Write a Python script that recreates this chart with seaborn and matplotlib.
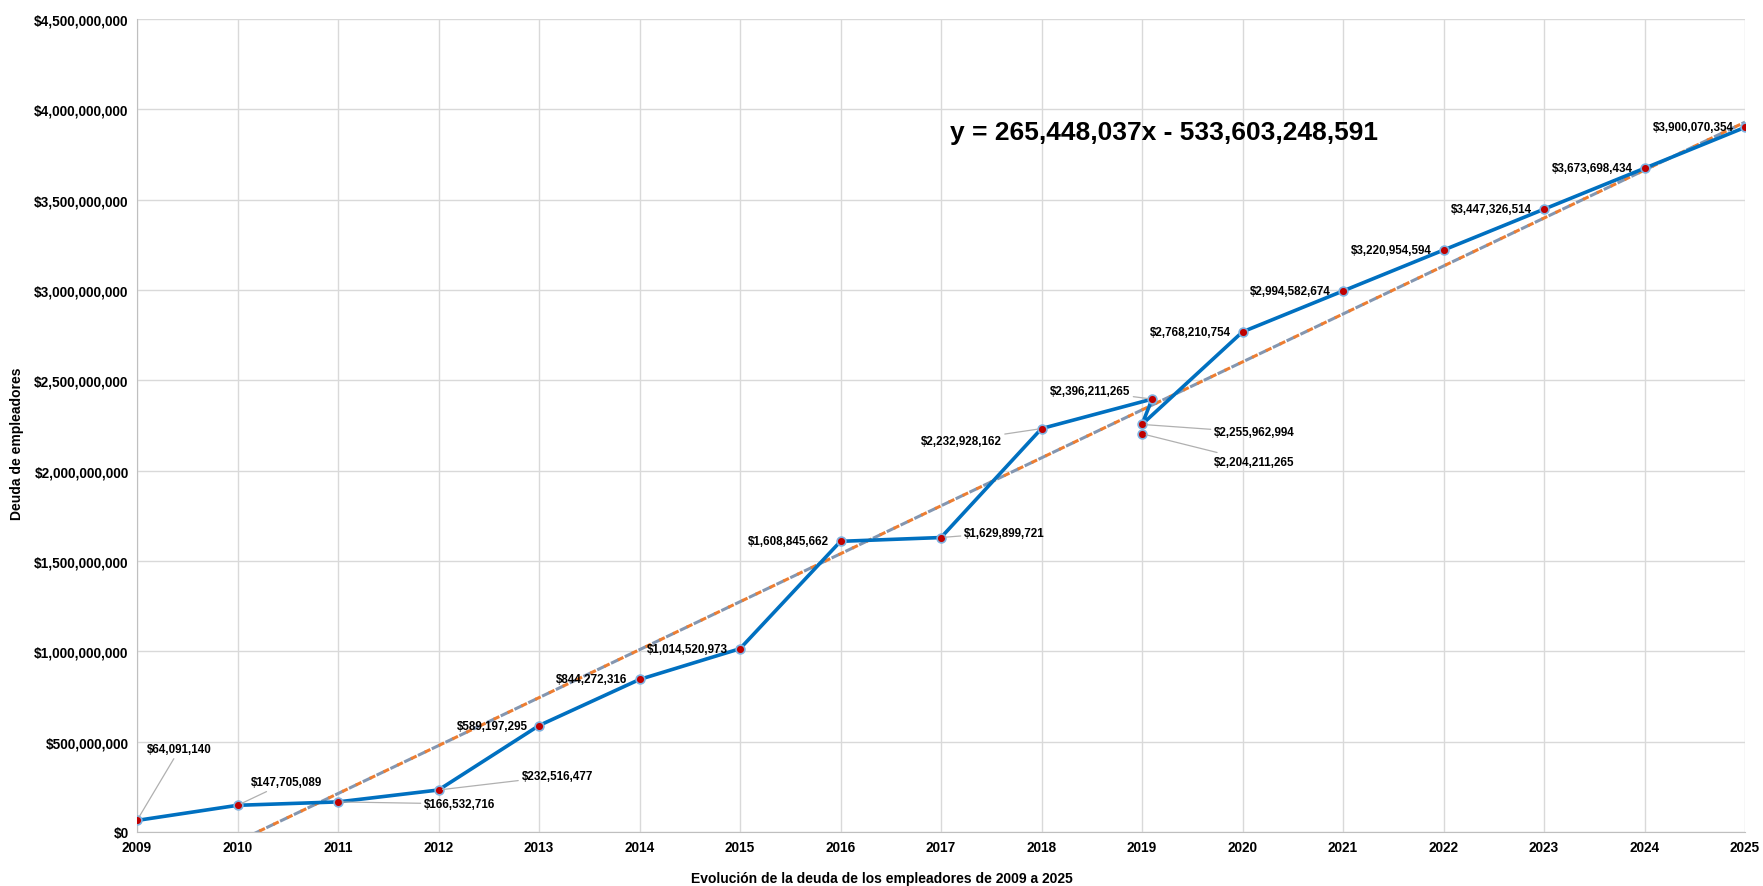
import numpy as np
import pandas as pd
import matplotlib
matplotlib.use('Agg')
import matplotlib.pyplot as plt
import seaborn as sns

# data
years = [2009, 2010, 2011, 2012, 2013, 2014, 2015, 2016, 2017, 2018,
         2019.1, 2019, 2020, 2021, 2022, 2023, 2024, 2025]
debt = [64091140, 147705089, 166532716, 232516477, 589197295, 844272316,
        1014520973, 1608845662, 1629899721, 2232928162, 2396211265,
        2255962994, 2768210754, 2994582674, 3220954594, 3447326514,
        3673698434, 3900070354]
# extra point sitting under the 2019 value (not joined by the line)
extra_year = [2019]
extra_debt = [2204211265]

# trendline coefficients as printed on the chart
slope = 265448037
intercept = -533603248591

# label offsets in pixels (dx, dy) and alignment
label_offsets = [(10, 71, 'left'), (13, 23, 'left'), (86, -2, 'left'), (83, 14, 'left'),
                 (-11, 0, 'right'), (-12, 0, 'right'), (-12, 0, 'right'), (-12, 0, 'right'),
                 (23, 5, 'left'), (-40, -12, 'right'), (-22, 8, 'right'), (72, -8, 'left'),
                 (-12, 0, 'right'), (-12, 0, 'right'), (-12, 0, 'right'), (-12, 0, 'right'),
                 (-12, 0, 'right'), (-11, 0, 'right')]
extra_offset = (72, -28, 'left')
leader = {0, 1, 2, 3, 8, 9, 10, 11}

df = pd.DataFrame({'year': years, 'debt': debt})
df_all = pd.concat([df, pd.DataFrame({'year': extra_year, 'debt': extra_debt})])

sns.set_style('white')
plt.rcParams['font.family'] = ['Liberation Sans', 'DejaVu Sans']
plt.rcParams['font.weight'] = 'bold'
plt.rcParams['text.color'] = 'black'
plt.rcParams['xtick.color'] = 'black'
plt.rcParams['ytick.color'] = 'black'

fig, ax = plt.subplots(figsize=(17.63, 8.87), dpi=100)
fig.subplots_adjust(left=137/1763, right=1745/1763, top=1-20/887, bottom=1-833/887)

# trendline (two overlapping dashed lines like the original)
tx = np.array([2009, 2025])
ty = slope * tx + intercept
ax.plot(tx, ty, color='#8496b0', lw=2.2, ls=(0, (3, 2)), zorder=2)
ax.plot(tx, ty, color='#ed7d31', lw=2.2, ls=(2.5, (2, 3)), zorder=2)

sns.lineplot(data=df, x='year', y='debt', sort=False, color='#0070c0', lw=2.6,
             ax=ax, zorder=3)
sns.scatterplot(data=df_all, x='year', y='debt', color='#c00000', s=40,
                edgecolor='#7fb2e0', linewidth=1.2, ax=ax, zorder=4)

def fmt(v):
    return '${:,.0f}'.format(v)

for i, (x, y) in enumerate(zip(years, debt)):
    dx, dy, ha = label_offsets[i]
    ap = dict(arrowstyle='-', color='#b0b0b0', lw=0.9, shrinkA=0, shrinkB=3) if i in leader else None
    ax.annotate(fmt(y), (x, y), xytext=(dx, dy), textcoords='offset pixels',
                ha=ha, va='center', fontsize=8.4, fontweight='bold', arrowprops=ap, zorder=5)
for x, y in zip(extra_year, extra_debt):
    dx, dy, ha = extra_offset
    ax.annotate(fmt(y), (x, y), xytext=(dx, dy), textcoords='offset pixels',
                ha=ha, va='center', fontsize=8.4, fontweight='bold',
                arrowprops=dict(arrowstyle='-', color='#b0b0b0', lw=0.9, shrinkA=0, shrinkB=3),
                zorder=5)

ax.set_xlim(2009, 2025)
ax.set_ylim(0, 4.5e9)
ax.set_xticks(range(2009, 2026))
ax.set_yticks(np.arange(0, 4.5e9 + 1, 5e8))
ax.yaxis.set_major_formatter(matplotlib.ticker.FuncFormatter(lambda v, p: fmt(v)))
ax.tick_params(axis='both', labelsize=9.8, length=0, pad=6, labelcolor='black')
for lab in ax.get_xticklabels() + ax.get_yticklabels():
    lab.set_fontweight('bold')
ax.grid(True, color='#d9d9d9', lw=1)
for s in ['top', 'right']:
    ax.spines[s].set_visible(False)
for s in ['left', 'bottom']:
    ax.spines[s].set_color('#bfbfbf')
ax.set_xlabel('')
ax.set_ylabel('')

ax.text(0.5056, 0.861, 'y = 265,448,037x - 533,603,248,591', transform=ax.transAxes,
        fontsize=19, fontweight='bold', va='center', ha='left', color='black')

fig.text(0.5, 1 - 879/887, 'Evolución de la deuda de los empleadores de 2009 a 2025',
         ha='center', va='center', fontsize=10, fontweight='bold', color='black')
fig.text(17/1763, 0.5, 'Deuda de empleadores', rotation=90, ha='center', va='center',
         fontsize=10, fontweight='bold', color='black')

fig.savefig('out.png', dpi=100)
